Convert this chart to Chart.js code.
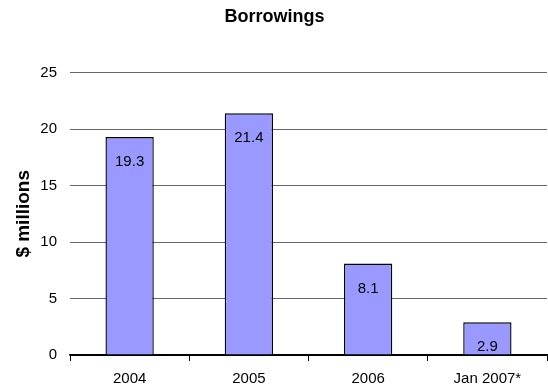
<!DOCTYPE html>
<html>
<head>
<meta charset="utf-8">
<script src="https://cdn.jsdelivr.net/npm/chart.js@4"></script>
<style>
  html, body { margin: 0; padding: 0; background: #fff; }
  #wrap { width: 548px; height: 391px; position: relative; }
</style>
</head>
<body>
<div id="wrap"><canvas id="c" width="548" height="391"></canvas></div>
<script>
const categories = ["2004", "2005", "2006", "Jan 2007*"];
const borrowings = [19.3, 21.4, 8.1, 2.9];
const yTicks = [0, 5, 10, 15, 20, 25];

const FONT = "Arial, 'Liberation Sans', sans-serif";

const barLabels = {
  id: 'barLabels',
  afterDatasetsDraw(chart) {
    const ctx = chart.ctx;
    const meta = chart.getDatasetMeta(0);
    ctx.save();
    ctx.font = "15px " + FONT;
    ctx.fillStyle = "#000";
    ctx.textAlign = "center";
    ctx.textBaseline = "middle";
    meta.data.forEach((bar, i) => {
      ctx.fillText(String(borrowings[i]), bar.x, bar.y + 25);
    });
    ctx.restore();
  }
};

new Chart(document.getElementById('c'), {
  type: 'bar',
  data: {
    labels: categories,
    datasets: [{
      data: borrowings,
      backgroundColor: '#9999FF',
      borderColor: '#000000',
      borderWidth: 1.4,
      barPercentage: 1.0,
      categoryPercentage: 0.405
    }]
  },
  options: {
    responsive: false,
    animation: false,
    devicePixelRatio: 1,
    layout: { padding: { left: 2, right: 1, top: 0, bottom: 0 } },
    plugins: {
      legend: { display: false },
      tooltip: { enabled: false },
      title: {
        display: true,
        text: 'Borrowings',
        color: '#000',
        font: { family: FONT, size: 18, weight: 'bold' },
        padding: { top: 6, bottom: 45 }
      }
    },
    scales: {
      x: {
        offset: true,
        grid: {
          offset: true,
          drawOnChartArea: false,
          drawTicks: true,
          tickLength: 6,
          color: '#000'
        },
        border: { display: true, color: '#000', width: 1.4 },
        ticks: {
          color: '#000',
          font: { family: FONT, size: 15 },
          padding: 9,
          maxRotation: 0
        },
        afterFit(scale) { scale.height = 36; }
      },
      y: {
        min: 0,
        max: 25,
        afterBuildTicks(scale) { scale.ticks = yTicks.map(v => ({ value: v })); },
        grid: {
          color: (c) => c.tick && c.tick.value === 0 ? '#000' : '#666',
          lineWidth: 1,
          drawTicks: false
        },
        border: { display: false },
        ticks: {
          color: '#000',
          font: { family: FONT, size: 15 },
          padding: 13
        },
        title: {
          display: true,
          text: '$ millions',
          color: '#000',
          font: { family: FONT, size: 19, weight: 'bold' },
          padding: { top: 10, bottom: 0 }
        },
        afterFit(scale) { scale.width = 68; }
      }
    }
  },
  plugins: [barLabels]
});
</script>
</body>
</html>
